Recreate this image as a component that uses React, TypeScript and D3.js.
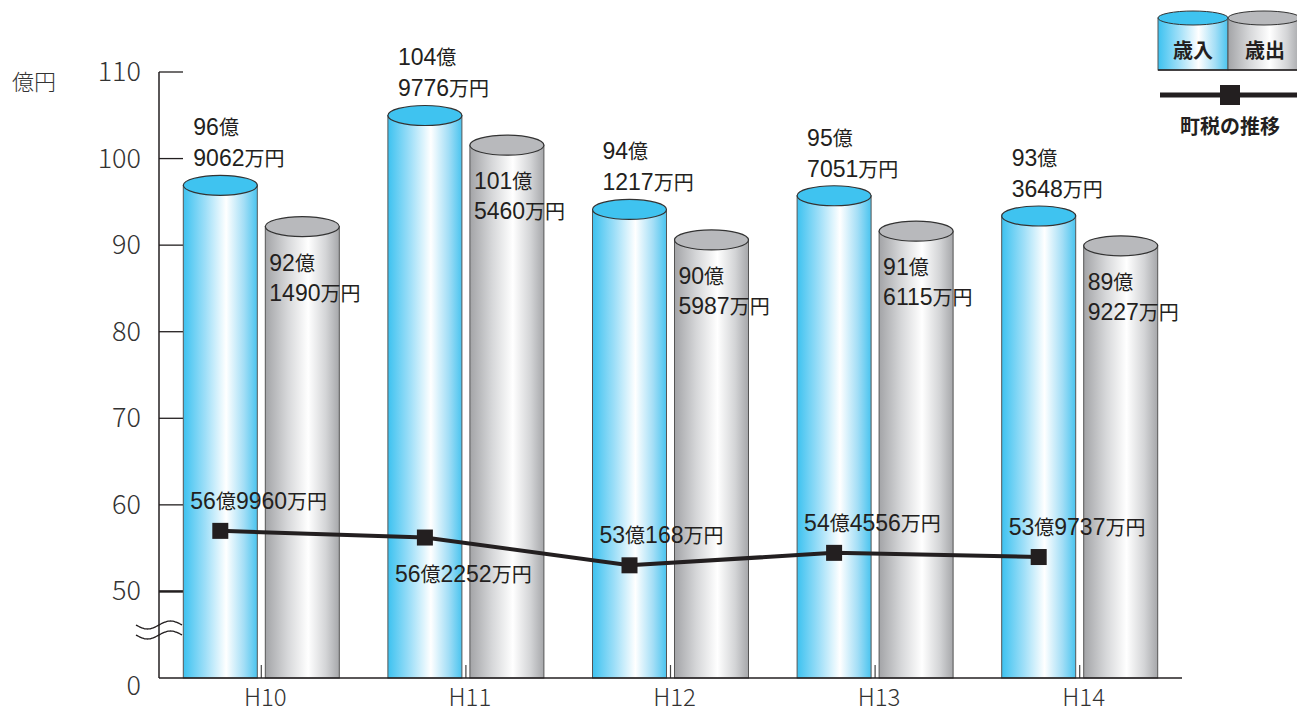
import React from 'react';
import * as d3 from 'd3';

// 年度
const years = ['H10', 'H11', 'H12', 'H13', 'H14'];
// 歳入・歳出・町税 (億円)
const revenue = [96.9062, 104.9776, 94.1217, 95.7051, 93.3648];
const expenditure = [92.149, 101.546, 90.5987, 91.6115, 89.9227];
const townTax = [56.996, 56.2252, 53.0168, 54.4556, 53.9737];
// 町税ラベルの位置
const taxLabelPos = ['above', 'below', 'above', 'above', 'above'];
// 目盛り
const yTicks = [50, 60, 70, 80, 90, 100, 110];

const W = 1297;
const H = 714;
const FONT = '"Noto Sans CJK JP", "Noto Sans", sans-serif';
const NUMFONT = '"Liberation Sans", "Noto Sans CJK JP", sans-serif';
const INK = '#231f20';

// 96.9062 -> ['96億', '9062万円']
function oku(v: number) {
  const n = Math.round(v * 10000);
  return [Math.floor(n / 10000) + '億', (n % 10000) + '万円'];
}

// 数字は Liberation Sans、漢字は少し小さく
const Label: React.FC<{text: string; x: number; y: number}> = ({text, x, y}) => {
  const runs = text.match(/[0-9]+|[^0-9]+/g) || [];
  return (
    <text x={x} y={y} fill={INK} fontFamily={NUMFONT}>
      {runs.map((r, i) =>
        /[0-9]/.test(r) ? (
          <tspan key={i} fontSize={23}>{r}</tspan>
        ) : (
          <tspan key={i} fontSize={20} fontFamily={FONT}>{r}</tspan>
        ),
      )}
    </text>
  );
};

const Cylinder: React.FC<{x: number; w: number; top: number; bottom: number; kind: string}> = ({x, w, top, bottom, kind}) => {
  const ry = 10;
  const cap = kind === 'blue' ? '#3fc3f0' : '#b8b9bc';
  return (
    <g>
      <rect x={x} y={top} width={w} height={bottom - top} fill={`url(#grad-${kind})`} stroke="#555" strokeWidth={1} />
      <ellipse cx={x + w / 2} cy={top} rx={w / 2} ry={ry} fill={cap} stroke="#333" strokeWidth={1.2} />
    </g>
  );
};

export default function App() {
  const margin = {left: 159, right: 1182, top: 72, bottom: 678};
  // 0〜40 は省略 (波線)
  const y = d3.scaleLinear().domain([40, 110]).range([margin.bottom, margin.top]);
  const x = d3.scaleBand().domain(years).range([margin.left, margin.right]).paddingInner(0);
  const barW = 74;
  const gap = 4;
  const center = (d: string) => (x(d) as number) + x.bandwidth() / 2;

  const line = d3
    .line<number>()
    .x((_, i) => center(years[i]) - gap - barW / 2)
    .y((d) => y(d));

  const wave = (yy: number) => {
    const pts: [number, number][] = d3.range(0, 41).map((i) => [136 + i * 1.15, yy + 4 * Math.sin((i / 40) * Math.PI * 2)]);
    return d3.line().curve(d3.curveBasis)(pts) as string;
  };

  return (
    <svg width={W} height={H} style={{position: 'absolute', left: 0, top: 0, background: '#fff'}} fontFamily={FONT}>
      <defs>
        <linearGradient id="grad-blue" x1="0" x2="1" y1="0" y2="0">
          <stop offset="0%" stopColor="#3dc2f0" />
          <stop offset="30%" stopColor="#9fdff8" />
          <stop offset="58%" stopColor="#ffffff" />
          <stop offset="82%" stopColor="#a3def6" />
          <stop offset="100%" stopColor="#4ac4ef" />
        </linearGradient>
        <linearGradient id="grad-gray" x1="0" x2="1" y1="0" y2="0">
          <stop offset="0%" stopColor="#a3a4a7" />
          <stop offset="30%" stopColor="#d6d7d9" />
          <stop offset="58%" stopColor="#ffffff" />
          <stop offset="82%" stopColor="#d3d4d6" />
          <stop offset="100%" stopColor="#a6a7aa" />
        </linearGradient>
      </defs>

      {/* y axis */}
      <text x={12} y={90} fontSize={22} fill="#333" fontWeight={300}>億円</text>
      <line x1={margin.left} x2={margin.left} y1={y(110)} y2={margin.bottom} stroke={INK} strokeWidth={1.5} />
      {yTicks.map((t) => (
        <g key={t}>
          <line x1={margin.left} x2={margin.left + 24} y1={y(t)} y2={y(t)} stroke={INK} strokeWidth={t === 50 ? 2.5 : 1.3} />
          <text x={141} y={y(t) + 9} fontSize={27} textAnchor="end" fill="#333" fontWeight={300}>{t}</text>
        </g>
      ))}
      <text x={141} y={margin.bottom + 17} fontSize={27} textAnchor="end" fill="#333" fontWeight={300}>0</text>

      {/* bars */}
      {years.map((d, i) => {
        const c = center(d);
        const rl = oku(revenue[i]);
        const el = oku(expenditure[i]);
        const rx = c - gap - barW;
        const ex = c + gap;
        return (
          <g key={d}>
            <Cylinder x={rx} w={barW} top={y(revenue[i])} bottom={margin.bottom} kind="blue" />
            <Cylinder x={ex} w={barW} top={y(expenditure[i])} bottom={margin.bottom} kind="gray" />
            <line x1={c} x2={c} y1={margin.bottom - 13} y2={margin.bottom} stroke="#444" strokeWidth={1.2} />
            <Label text={rl[0]} x={rx + 10} y={y(revenue[i]) - 50} />
            <Label text={rl[1]} x={rx + 10} y={y(revenue[i]) - 19} />
            <Label text={el[0]} x={ex + 4} y={y(expenditure[i]) + 44} />
            <Label text={el[1]} x={ex + 4} y={y(expenditure[i]) + 74} />
            <text x={c + 4} y={margin.bottom + 28} fontSize={24} textAnchor="middle" fill="#333" fontWeight={300}>{d}</text>
          </g>
        );
      })}

      {/* x axis */}
      <line x1={margin.left} x2={margin.right} y1={margin.bottom} y2={margin.bottom} stroke={INK} strokeWidth={1.5} />

      {/* axis break */}
      <path d={wave(625)} fill="none" stroke={INK} strokeWidth={1.3} />
      <path d={wave(635)} fill="none" stroke={INK} strokeWidth={1.3} />

      {/* 町税 line */}
      <path d={line(townTax) as string} fill="none" stroke={INK} strokeWidth={4} />
      {townTax.map((v, i) => {
        const px = center(years[i]) - gap - barW / 2;
        const py = y(v);
        const lab = oku(v);
        const ty = taxLabelPos[i] === 'above' ? py - 22 : py + 44;
        return (
          <g key={i}>
            <rect x={px - 8} y={py - 8} width={16} height={16} fill={INK} />
            <Label text={lab[0] + lab[1]} x={px - 30} y={ty} />
          </g>
        );
      })}

      {/* legend */}
      <g>
        <rect x={1158} y={18} width={70} height={52} fill="url(#grad-blue)" stroke="#555" strokeWidth={1} />
        <ellipse cx={1193} cy={18} rx={35} ry={7} fill="#3fc3f0" stroke="#333" strokeWidth={1} />
        <rect x={1228} y={18} width={72} height={52} fill="url(#grad-gray)" stroke="#555" strokeWidth={1} />
        <ellipse cx={1264} cy={18} rx={36} ry={7} fill="#b8b9bc" stroke="#333" strokeWidth={1} />
        <line x1={1158} x2={1297} y1={70} y2={70} stroke={INK} strokeWidth={1.5} />
        <text x={1193} y={58} fontSize={20} fontWeight={700} textAnchor="middle" fill={INK}>歳入</text>
        <text x={1265} y={58} fontSize={20} fontWeight={700} textAnchor="middle" fill={INK}>歳出</text>
        <line x1={1160} x2={1297} y1={95} y2={95} stroke={INK} strokeWidth={5} />
        <rect x={1220} y={85} width={20} height={20} fill={INK} />
        <text x={1230} y={134} fontSize={20} fontWeight={700} textAnchor="middle" fill={INK}>町税の推移</text>
      </g>
    </svg>
  );
}
